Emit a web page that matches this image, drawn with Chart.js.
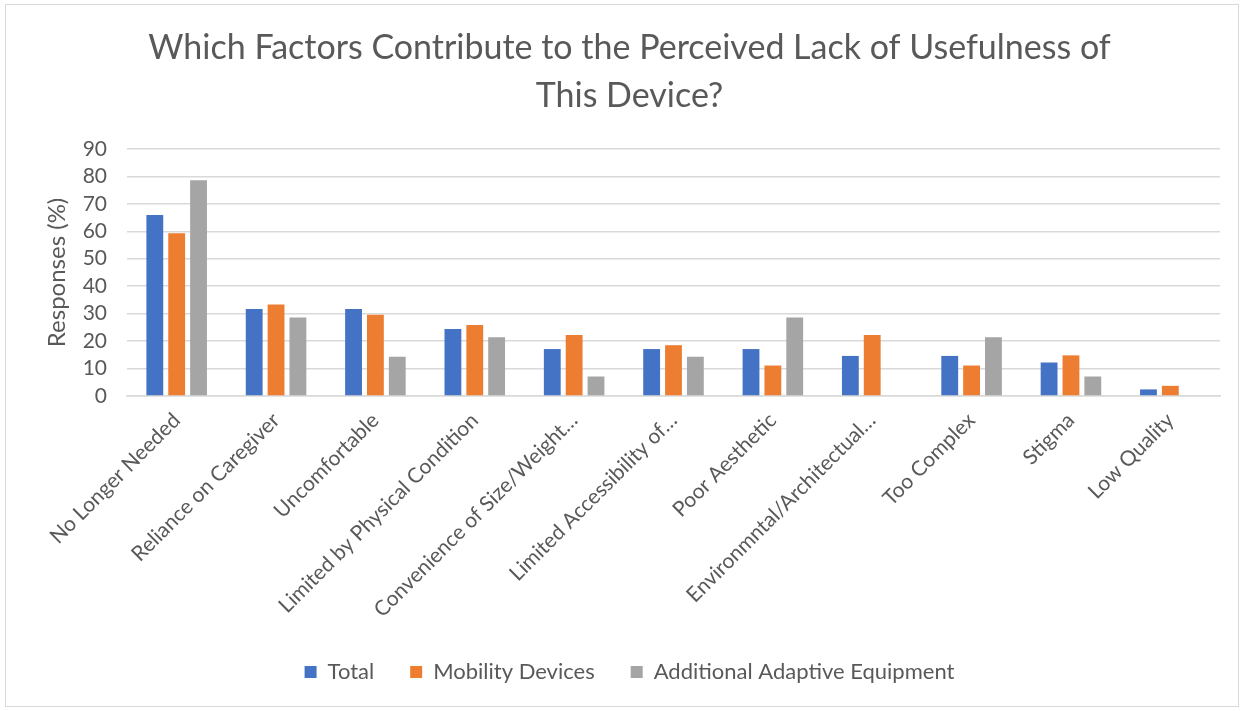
<!DOCTYPE html>
<html>
<head>
<meta charset="utf-8">
<script src="https://cdn.jsdelivr.net/npm/chart.js@4.4.1/dist/chart.umd.min.js"></script>
<style>
  body { margin: 0; background: #fff; }
  #frame { position: absolute; left: 5px; top: 4px; width: 1232px; height: 701px; border: 1px solid #d9d9d9; }
  #chart { position: absolute; left: 0; top: 0; }
</style>
</head>
<body>
<div id="frame"></div>
<canvas id="chart" width="1244" height="711"></canvas>
<script>
const categories = [
  'No Longer Needed', 'Reliance on Caregiver', 'Uncomfortable',
  'Limited by Physical Condition', 'Convenience of Size/Weight…',
  'Limited Accessibility of…', 'Poor Aesthetic', 'Environmntal/Architectual…',
  'Too Complex', 'Stigma', 'Low Quality'
];
const totalValues = [65.9, 31.7, 31.7, 24.4, 17.1, 17.1, 17.1, 14.6, 14.6, 12.2, 2.4];
const mobilityValues = [59.3, 33.3, 29.6, 25.9, 22.2, 18.5, 11.1, 22.2, 11.1, 14.8, 3.7];
const adaptiveValues = [78.6, 28.6, 14.3, 21.4, 7.1, 14.3, 28.6, 0, 21.4, 7.1, 0];
const seriesNames = ['Total', 'Mobility Devices', 'Additional Adaptive Equipment'];
const yTicks = [0, 10, 20, 30, 40, 50, 60, 70, 80, 90];

const textColor = '#595959';
const font = 'Lato, "Liberation Sans", sans-serif';

const ctx = document.getElementById('chart').getContext('2d');

new Chart(ctx, {
  type: 'bar',
  data: {
    labels: categories,
    datasets: [
      { label: seriesNames[0], data: totalValues, backgroundColor: '#4472C4' },
      { label: seriesNames[1], data: mobilityValues, backgroundColor: '#ED7D31' },
      { label: seriesNames[2], data: adaptiveValues, backgroundColor: '#A5A5A5' }
    ]
  },
  options: {
    responsive: false,
    animation: false,
    categoryPercentage: 0.66,
    barPercentage: 0.77,
    layout: { padding: { left: 39, right: 24, top: 0, bottom: 18 } },
    plugins: {
      title: {
        display: true,
        text: ['Which Factors Contribute to the Perceived Lack of Usefulness of', 'This Device?'],
        color: textColor,
        font: { family: font, size: 34, weight: 'normal', lineHeight: 1.41 },
        padding: { top: 24, bottom: 29 }
      },
      legend: {
        position: 'bottom',
        labels: {
          color: textColor,
          font: { family: font, size: 22 },
          boxWidth: 12,
          boxHeight: 12,
          padding: 36
        }
      },
      tooltip: { enabled: false }
    },
    scales: {
      x: {
        grid: { display: false },
        border: { display: true, color: '#d9d9d9', width: 1.5 },
        ticks: {
          color: textColor,
          font: { family: font, size: 21 },
          maxRotation: 45,
          minRotation: 45,
          autoSkip: false,
          padding: 4
        },
        afterFit: (scale) => { scale.height = 229; }
      },
      y: {
        min: 0,
        max: 90,
        afterBuildTicks: (scale) => { scale.ticks = yTicks.map(v => ({ value: v })); },
        grid: { color: '#d9d9d9', lineWidth: 1.5, drawTicks: false },
        border: { display: false },
        ticks: {
          color: textColor,
          font: { family: font, size: 21 },
          autoSkip: false,
          padding: 20
        },
        title: {
          display: true,
          text: 'Responses (%)',
          color: textColor,
          font: { family: font, size: 24 },
          padding: 4
        },
        afterFit: (scale) => { scale.width = 88; }
      }
    }
  }
});
</script>
</body>
</html>
